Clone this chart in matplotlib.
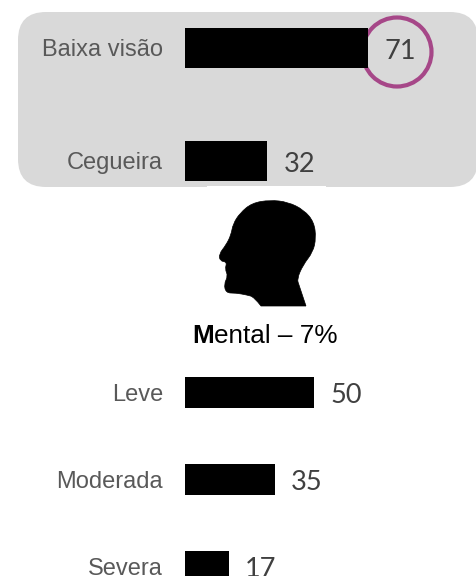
#!/usr/bin/env python
import matplotlib
matplotlib.use('Agg')
from matplotlib import pyplot as plt
from matplotlib.patches import Circle, FancyBboxPatch, PathPatch, Rectangle
from matplotlib.path import Path

W, H = 477, 576

vision_labels = ['Baixa visão', 'Cegueira']
vision_values = [71, 32]
mental_labels = ['Leve', 'Moderada', 'Severa']
mental_values = [50, 35, 17]

# head outline, picture pixels
head_x = [306, 299, 297, 303, 313, 316, 314, 304, 288, 270, 252, 240, 233, 231, 226,
          219, 220, 227, 225, 228, 224, 226, 236, 247, 254, 261]
head_y = [306, 285, 279, 265, 252, 238, 222, 210, 202, 200, 203, 213, 224, 235, 245,
          254, 261, 262, 269, 276, 284, 293, 293, 295, 297, 306]

PX_PER_UNIT = 2.59
BAR_LEFT = 184.5


def head_path():
    pts = list(zip(head_x, head_y))
    verts = [pts[0]]
    codes = [Path.MOVETO]
    for a, b in zip(pts[1:-2], pts[2:-1]):
        verts += [a, ((a[0] + b[0]) / 2, (a[1] + b[1]) / 2)]
        codes += [Path.CURVE3, Path.CURVE3]
    verts += [pts[-2], pts[-1], pts[0]]
    codes += [Path.CURVE3, Path.CURVE3, Path.LINETO]
    return Path(verts, codes)


def bar_axes(fig, labels, values, top, bottom, first_center, spacing, bar_px):
    ax = fig.add_axes([BAR_LEFT / W, 1 - bottom / H, (W - BAR_LEFT) / W, (bottom - top) / H])
    ax.patch.set_alpha(0)
    pos = list(range(len(values)))
    ax.barh(pos, values, height=bar_px / spacing, color='black')
    ax.set_xlim(0, (W - BAR_LEFT) / PX_PER_UNIT)
    ax.set_ylim((bottom - first_center) / spacing, (top - first_center) / spacing)
    ax.set_xticks([])
    ax.set_yticks(pos)
    ax.set_yticklabels(labels, family='Liberation Sans', fontsize=17, color='#595959')
    ax.tick_params(axis='y', length=0, pad=15.5)
    for spine in ax.spines.values():
        spine.set_visible(False)
    for p, v in zip(pos, values):
        ax.annotate(str(v), (v, p), xytext=(11.5, -2.5), textcoords='offset points',
                    va='center', family='Lato', fontsize=19.5, color='#404040',
                    annotation_clip=False)
    return ax


def main():
    fig = plt.figure(figsize=(W / 100, H / 100), dpi=100)

    bg = fig.add_axes([0, 0, 1, 1])
    bg.set_xlim(0, W)
    bg.set_ylim(H, 0)
    bg.axis('off')
    bg.add_patch(FancyBboxPatch((18, 12), 460, 175, boxstyle='round,pad=0,rounding_size=28',
                                fc='#d9d9d9', ec='none'))
    bg.add_patch(Rectangle((207, 186), 119, 6, fc='white', ec='none'))
    bg.add_patch(Circle((397, 52), 34.5, fc='none', ec='#a64788', lw=3.0))
    bg.add_patch(PathPatch(head_path(), fc='black', ec='black', lw=0.5))

    title = bg.text(192, 343, 'M', family='Liberation Sans', fontweight='bold',
                    fontsize=18.8, color='black', va='baseline')
    bg.annotate('ental – 7%', xy=(1, 0), xycoords=title, va='bottom',
                family='Liberation Sans', fontsize=18.8, color='black')

    bar_axes(fig, vision_labels, vision_values, 0, 190, 48, 113, 40)
    bar_axes(fig, mental_labels, mental_values, 365, H, 392.5, 87, 31)

    fig.savefig('out.png', dpi=100)


if __name__ == '__main__':
    main()
